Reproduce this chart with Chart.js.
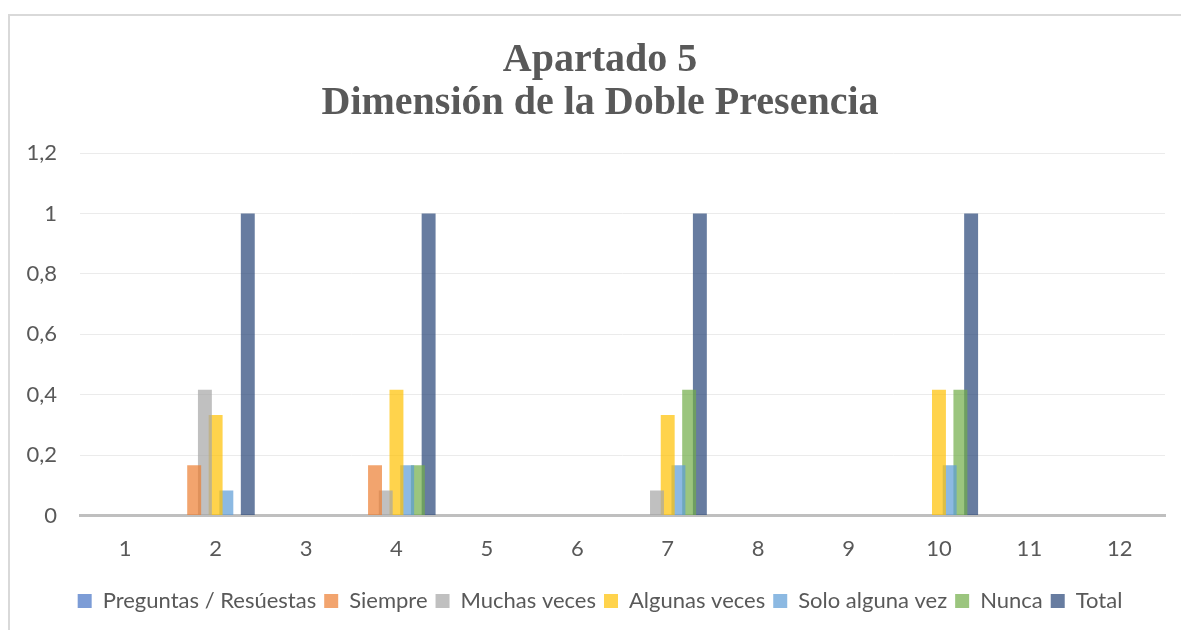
<!DOCTYPE html>
<html>
<head>
<meta charset="utf-8">
<script src="https://cdn.jsdelivr.net/npm/chart.js@4"></script>
<style>
  body { margin: 0; background: #fff; }
  #frame { position: absolute; left: 8px; top: 14px; width: 1200px; height: 700px; border: 2px solid #d9d9d9; }
  #wrap { position: absolute; left: 0; top: 0; width: 1181px; height: 630px; }
</style>
</head>
<body>
<div id="frame"></div>
<div id="wrap"><canvas id="chart"></canvas></div>
<script>
const categories = ['1', '2', '3', '4', '5', '6', '7', '8', '9', '10', '11', '12'];
const seriesNames = ['Preguntas / Resúestas', 'Siempre', 'Muchas veces', 'Algunas veces', 'Solo alguna vez', 'Nunca', 'Total'];
const preguntas = [0, 0, 0, 0, 0, 0, 0, 0, 0, 0, 0, 0];
const siempre = [0, 0.1667, 0, 0.1667, 0, 0, 0, 0, 0, 0, 0, 0];
const muchasVeces = [0, 0.4167, 0, 0.0833, 0, 0, 0.0833, 0, 0, 0, 0, 0];
const algunasVeces = [0, 0.3333, 0, 0.4167, 0, 0, 0.3333, 0, 0, 0.4167, 0, 0];
const soloAlgunaVez = [0, 0.0833, 0, 0.1667, 0, 0, 0.1667, 0, 0, 0.1667, 0, 0];
const nunca = [0, 0, 0, 0.1667, 0, 0, 0.4167, 0, 0, 0.4167, 0, 0];
const total = [0, 1, 0, 1, 0, 0, 1, 0, 0, 1, 0, 0];
const yTicks = [0, 0.2, 0.4, 0.6, 0.8, 1, 1.2];

const colors = ['rgba(68,114,196,0.7)', 'rgba(237,125,49,0.7)', 'rgba(165,165,165,0.7)',
  'rgba(255,192,0,0.7)', 'rgba(91,155,213,0.7)', 'rgba(112,173,71,0.7)', 'rgba(38,68,120,0.7)'];
const values = [preguntas, siempre, muchasVeces, algunasVeces, soloAlgunaVez, nunca, total];

const ctx = document.getElementById('chart').getContext('2d');
new Chart(ctx, {
  type: 'bar',
  data: {
    labels: categories,
    datasets: seriesNames.map((name, i) => ({
      label: name,
      data: values[i],
      backgroundColor: colors[i],
      borderWidth: 0,
      categoryPercentage: 0.83,
      barPercentage: 1.3
    }))
  },
  options: {
    responsive: true,
    maintainAspectRatio: false,
    animation: false,
    layout: { padding: { top: 0, right: 16, bottom: 8, left: 35 } },
    plugins: {
      tooltip: { enabled: false },
      title: {
        display: true,
        text: ['Apartado 5', 'Dimensión de la Doble Presencia'],
        color: '#595959',
        font: { family: 'Liberation Serif', size: 40, weight: 'bold', lineHeight: 1.075 },
        padding: { top: 39, bottom: 28 }
      },
      legend: {
        position: 'bottom',
        labels: {
          color: '#595959',
          font: { family: 'Lato', size: 22 },
          boxWidth: 14,
          boxHeight: 14,
          padding: 8
        }
      }
    },
    scales: {
      x: {
        grid: { display: false, drawTicks: false },
        border: { display: true, color: '#bfbfbf', width: 3 },
        ticks: { color: '#595959', font: { family: 'Lato', size: 22 }, padding: 20 }
      },
      y: {
        min: 0,
        max: 1.2,
        afterBuildTicks: scale => { scale.ticks = yTicks.map(v => ({ value: v })); },
        afterFit: scale => {
          scale.width = 45;
          scale._computeLabelArea = () => null; // labels stick out past the padding, don't clip them
        },
        grid: { color: '#ebebeb', lineWidth: 1, drawTicks: false },
        border: { display: false },
        ticks: {
          color: '#595959',
          font: { family: 'Lato', size: 22 },
          padding: 23,
          callback: v => String(Math.round(v * 10) / 10).replace('.', ',')
        }
      }
    }
  }
});
</script>
</body>
</html>
